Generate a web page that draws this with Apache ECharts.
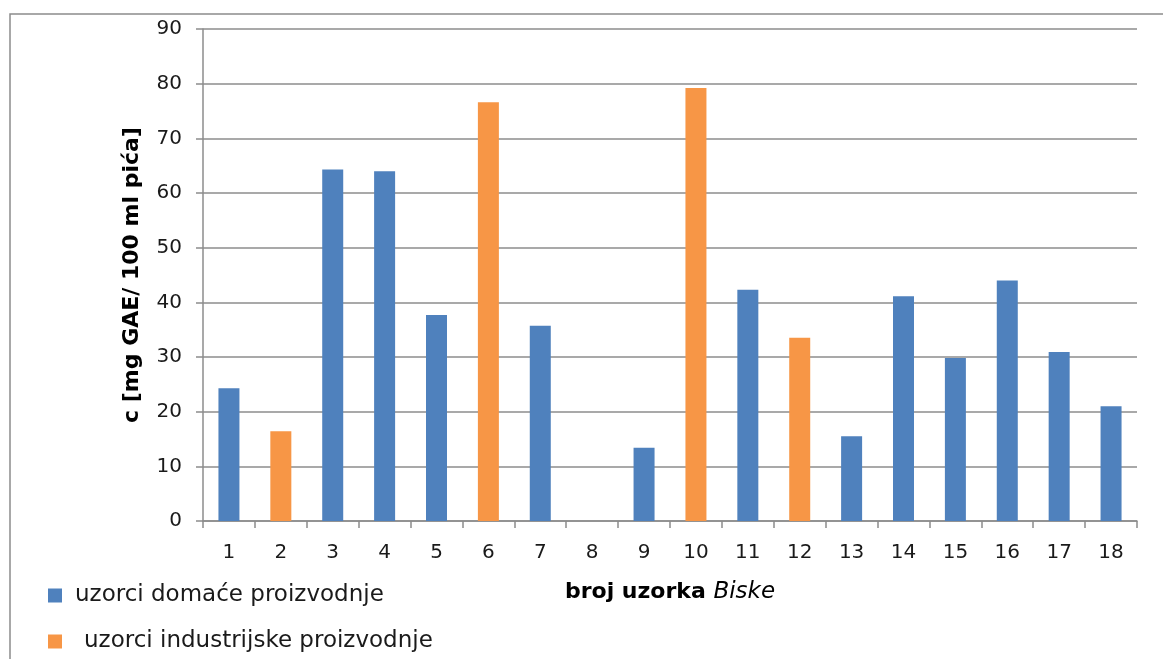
<!DOCTYPE html>
<html>
<head>
<meta charset="utf-8">
<script src="https://cdn.jsdelivr.net/npm/echarts@6/dist/echarts.min.js"></script>
<style>
html,body{margin:0;padding:0;background:#fff;}
#chart{width:1163px;height:659px;}
</style>
</head>
<body>
<div id="chart"></div>
<script>
const categories = ['1','2','3','4','5','6','7','8','9','10','11','12','13','14','15','16','17','18'];
const domestic = [24.3, null, 64.3, 64.0, 37.7, null, 35.7, null, 13.4, null, 42.3, null, 15.5, 41.1, 29.8, 44.0, 30.9, 21.0];
const industrial = [null, 16.4, null, null, null, 76.6, null, null, null, 79.2, null, 33.5, null, null, null, null, null, null];
const yTicks = {min: 0, max: 90, interval: 10};
const nameDomestic = 'uzorci domaće proizvodnje';
const nameIndustrial = 'uzorci industrijske proizvodnje';

const FONT = 'DejaVu Sans';
const chart = echarts.init(document.getElementById('chart'), null, {renderer: 'canvas'});
chart.setOption({
  animation: false,
  backgroundColor: '#ffffff',
  textStyle: {fontFamily: FONT},
  graphic: [{
    type: 'rect', silent: true, z: -1,
    shape: {x: 10, y: 14, width: 1200, height: 700},
    style: {fill: null, stroke: '#8c8c8c', lineWidth: 1.5}
  }],
  grid: {left: 203, right: 26, top: 29, bottom: 138, containLabel: false},
  legend: [{
    data: [nameDomestic], left: 43, top: 579, orient: 'vertical',
    icon: 'rect', itemWidth: 14, itemHeight: 14,
    textStyle: {fontFamily: FONT, fontSize: 23, color: '#1a1a1a', padding: [0,0,0,8]}
  }, {
    data: [nameIndustrial], left: 43, top: 625, orient: 'vertical',
    icon: 'rect', itemWidth: 14, itemHeight: 14,
    textStyle: {fontFamily: FONT, fontSize: 23, color: '#1a1a1a', padding: [0,0,0,17]}
  }],
  xAxis: {
    type: 'category', data: categories, boundaryGap: true,
    name: '{b|broj uzorka }{i|Biske}', nameLocation: 'middle', nameGap: 60,
    nameTextStyle: {rich: {
      b: {fontFamily: FONT, fontSize: 22, fontWeight: 'bold', color: '#000'},
      i: {fontFamily: FONT, fontSize: 23, fontStyle: 'italic', color: '#000'}
    }},
    axisLine: {show: true, lineStyle: {color: '#8c8c8c', width: 1.5}},
    axisTick: {show: true, length: 7, lineStyle: {color: '#8c8c8c', width: 1.5}},
    axisLabel: {fontFamily: FONT, fontSize: 20, color: '#1a1a1a', margin: 22, interval: 0}
  },
  yAxis: {
    type: 'value', min: yTicks.min, max: yTicks.max, interval: yTicks.interval,
    name: 'c [mg GAE/ 100 ml pića]', nameLocation: 'middle', nameGap: 60, nameRotate: 90,
    nameTextStyle: {fontFamily: FONT, fontSize: 22, fontWeight: 'bold', color: '#000'},
    axisLine: {show: true, lineStyle: {color: '#8c8c8c', width: 1.5}},
    axisTick: {show: true, length: 7, lineStyle: {color: '#8c8c8c', width: 1.5}},
    axisLabel: {fontFamily: FONT, fontSize: 20, color: '#1a1a1a', margin: 21},
    splitLine: {show: true, lineStyle: {color: '#8c8c8c', width: 1.5}}
  },
  series: [{
    name: nameDomestic, type: 'bar', data: domestic, barWidth: 21, barGap: '-100%',
    itemStyle: {color: '#4F81BD'}
  }, {
    name: nameIndustrial, type: 'bar', data: industrial, barWidth: 21, barGap: '-100%',
    itemStyle: {color: '#F79646'}
  }]
});
</script>
</body>
</html>
